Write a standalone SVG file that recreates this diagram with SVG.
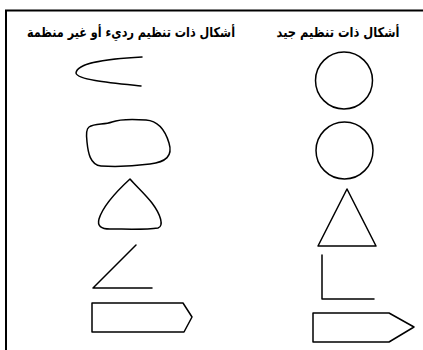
<svg xmlns="http://www.w3.org/2000/svg" width="423" height="350" viewBox="0 0 423 350">
<style>
.s{fill:none;stroke:#000;stroke-width:1.5;stroke-linejoin:round;stroke-linecap:round}
.t{font-family:"DejaVu Sans",sans-serif;font-size:13.5px;font-weight:bold;fill:#000}
</style>
<rect width="423" height="350" fill="#fff"/>
<g id="frame">
<path d="M6,350 V10.5 H423" fill="none" stroke="#000" stroke-width="2"/>
</g>
<g id="headers">
<text class="t" x="338" y="37" text-anchor="middle" direction="rtl" textLength="123" lengthAdjust="spacingAndGlyphs">أشكال ذات تنظيم جيد</text>
<text class="t" x="131" y="37" text-anchor="middle" direction="rtl" textLength="208" lengthAdjust="spacingAndGlyphs">أشكال ذات تنظيم رديء أو غير منظمة</text>
</g>
<g id="poor-curve"><path class="s" d="M142,57 C105,59 77,63 76,73 C77,80 112,83 141,86"/></g>
<g id="poor-blob"><path class="s" d="M89,127 C95,123 104,125 112,122 C120,119 132,119 146,120 C160,121 166,133 169,143 C173,156 166,162 150,164 C135,166 115,167 101,166 C90,165 88,152 87,142 C86,134 86,129 89,127 Z"/></g>
<g id="poor-triangle"><path class="s" d="M130,179 C118,190 103,206 99,219 C97,226 101,229 110,229 C125,229 145,230 158,228 C164,226 161,215 152,203 C145,194 136,186 130,179 Z"/></g>
<g id="poor-angle"><path class="s" d="M136,245 L93,288 L152,288"/></g>
<g id="poor-arrow"><path class="s" d="M92,303 H183 L192,317 L184,332 H92 Z"/></g>
<g id="good-circle-1"><circle class="s" cx="344" cy="80.5" r="28.5"/></g>
<g id="good-circle-2"><circle class="s" cx="344.5" cy="150.5" r="28.5"/></g>
<g id="good-triangle"><path class="s" d="M347,189 L376,246 H318 Z"/></g>
<g id="good-angle"><path class="s" d="M322,255 V299 H374"/></g>
<g id="good-arrow"><path class="s" d="M313,313 H389 L414,327 L389,342 H313 Z"/></g>
</svg>
